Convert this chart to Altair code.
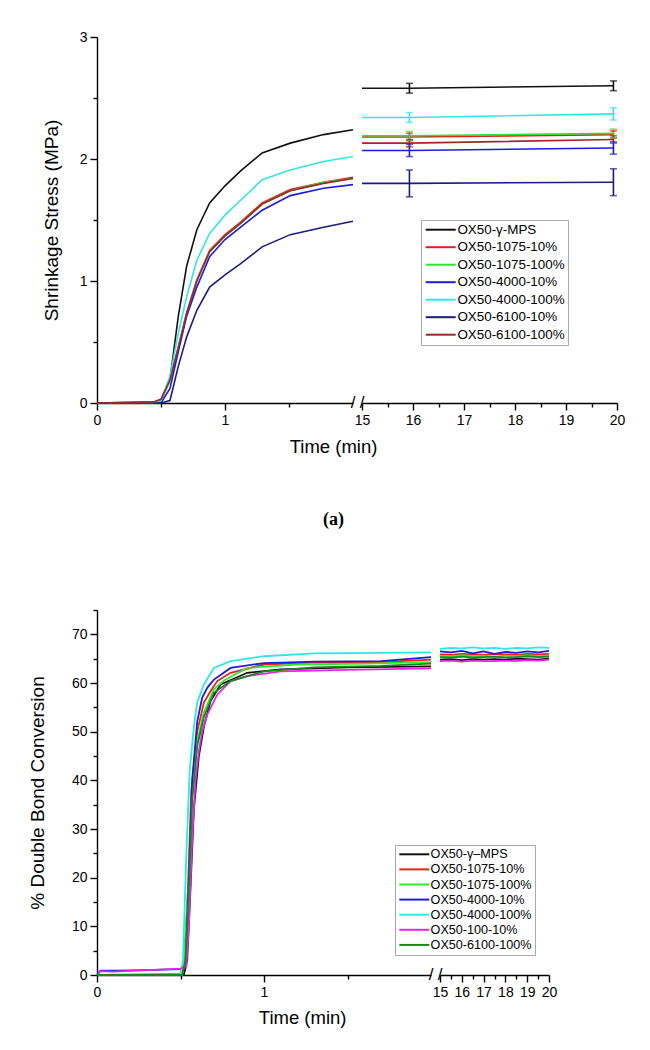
import altair as alt
import pandas as pd

FONT = "Liberation Sans"

# ---------------- (a) Shrinkage stress ----------------
a_series = ["OX50-γ-MPS", "OX50-1075-10%", "OX50-1075-100%", "OX50-4000-10%",
            "OX50-4000-100%", "OX50-6100-10%", "OX50-6100-100%"]
a_colors = ["#111111", "#e02020", "#33e033", "#1c1ce0", "#33e6e6", "#1c1c80", "#9a2a2a"]

a_time = [0, 0.45, 0.5, 0.57, 0.635, 0.70, 0.78, 0.88, 1.0, 1.12, 1.29, 1.51, 1.77, 2.0]
a_mps = [0, 0, 0.02, 0.19, 0.71, 1.12, 1.42, 1.64, 1.78, 1.90, 2.05, 2.13, 2.20, 2.24]
a_1075_10 = [0, 0.01, 0.03, 0.19, 0.46, 0.74, 1.01, 1.25, 1.38, 1.48, 1.64, 1.75, 1.81, 1.85]
a_1075_100 = [0, 0, 0.02, 0.18, 0.45, 0.73, 1.00, 1.24, 1.37, 1.47, 1.63, 1.74, 1.81, 1.84]
a_4000_10 = [0, 0, 0.0, 0.12, 0.42, 0.71, 0.95, 1.20, 1.34, 1.44, 1.58, 1.70, 1.76, 1.79]
a_4000_100 = [0, 0, 0.02, 0.22, 0.57, 0.87, 1.17, 1.39, 1.54, 1.66, 1.83, 1.91, 1.98, 2.02]
a_6100_10 = [0, 0, 0, 0.02, 0.30, 0.54, 0.76, 0.95, 1.05, 1.14, 1.28, 1.38, 1.44, 1.49]
a_6100_100 = [0, 0.01, 0.03, 0.19, 0.45, 0.73, 1.00, 1.24, 1.37, 1.47, 1.63, 1.74, 1.80, 1.84]

a_late_time = [15, 15.93, 19.93]
a_late = {
    "OX50-γ-MPS": [2.58, 2.58, 2.60],
    "OX50-1075-10%": [2.18, 2.18, 2.20],
    "OX50-1075-100%": [2.19, 2.19, 2.21],
    "OX50-4000-10%": [2.07, 2.07, 2.09],
    "OX50-4000-100%": [2.34, 2.34, 2.37],
    "OX50-6100-10%": [1.80, 1.80, 1.81],
    "OX50-6100-100%": [2.13, 2.13, 2.16],
}
a_err_time = [15.93, 19.93]
a_err = {
    "OX50-γ-MPS": [0.04, 0.04],
    "OX50-1075-10%": [0.03, 0.03],
    "OX50-1075-100%": [0.035, 0.035],
    "OX50-4000-10%": [0.05, 0.05],
    "OX50-4000-100%": [0.04, 0.05],
    "OX50-6100-10%": [0.11, 0.11],
    "OX50-6100-100%": [0.03, 0.03],
}

# ---------------- (b) Double bond conversion ----------------
b_series = ["OX50-γ–MPS", "OX50-1075-10%", "OX50-1075-100%", "OX50-4000-10%",
            "OX50-4000-100%", "OX50-100-10%", "OX50-6100-100%"]
b_colors = ["#111111", "#ee2020", "#33e633", "#1c1ce0", "#33e6e6", "#ee22ee", "#158a15"]

b_mps_t = [0, 0.52, 0.54, 0.56, 0.58, 0.61, 0.64, 0.68, 0.74, 0.90, 1.1, 1.5, 2.0]
b_mps_v = [0, 0, 3, 18, 34, 45, 51, 56.3, 59.7, 62.1, 62.8, 63.2, 63.4]
b_1075_10_t = [0, 0.5, 0.525, 0.545, 0.565, 0.60, 0.64, 0.68, 0.72, 0.80, 1.0, 1.3, 1.7, 2.0]
b_1075_10_v = [0, 0, 2, 18, 38, 50, 56, 58.3, 60.4, 62.1, 63.8, 64.2, 64.3, 64.8]
b_1075_100_t = [0, 0.5, 0.52, 0.55, 0.57, 0.60, 0.64, 0.70, 0.76, 0.90, 1.2, 1.6, 2.0]
b_1075_100_v = [0, 0.3, 3, 20, 37, 48, 54, 58.7, 60.5, 63.1, 63.8, 64.0, 64.3]
b_4000_10_t = [0, 0.02, 0.12, 0.3, 0.5, 0.53, 0.55, 0.57, 0.60, 0.63, 0.66, 0.70, 0.80, 1.0, 1.3, 1.7, 2.0]
b_4000_10_v = [0, 0.9, 0.9, 1.0, 1.2, 2, 20, 40, 52, 57, 59, 60.7, 63.1, 64.1, 64.4, 64.5, 65.3]
b_4000_100_t = [0, 0.5, 0.515, 0.535, 0.555, 0.58, 0.60, 0.64, 0.70, 0.80, 1.0, 1.3, 1.7, 2.0]
b_4000_100_v = [0, 0, 3, 25, 42, 51, 56, 59.7, 63.1, 64.5, 65.5, 66.1, 66.2, 66.3]
b_100_10_t = [0, 0.02, 0.1, 0.3, 0.5, 0.535, 0.55, 0.57, 0.59, 0.61, 0.63, 0.66, 0.72, 0.80, 0.90, 1.1, 1.5, 2.0]
b_100_10_v = [0, 0.8, 0.7, 1.0, 1.3, 1.8, 10, 28, 40, 46, 50, 53.5, 57.6, 60.4, 61.4, 62.4, 62.7, 63.0]
b_6100_100_t = [0, 0.51, 0.53, 0.55, 0.57, 0.60, 0.64, 0.70, 0.80, 1.0, 1.3, 1.7, 2.0]
b_6100_100_v = [0, 0, 3, 18, 36, 47, 53, 58.0, 60.4, 62.4, 63.2, 63.5, 64.0]

b_late_time = [15, 15.5, 16, 16.5, 17, 17.5, 18, 18.5, 19, 19.5, 20]
b_late = {
    "OX50-γ–MPS": [64.8, 64.9, 64.7, 64.9, 64.8, 64.9, 64.8, 65.0, 64.9, 64.8, 65.0],
    "OX50-1075-10%": [65.9, 65.8, 66.0, 65.9, 65.8, 66.0, 65.9, 65.8, 66.0, 65.9, 66.0],
    "OX50-1075-100%": [65.6, 65.4, 65.7, 65.5, 65.6, 65.4, 65.6, 65.5, 65.7, 65.5, 65.6],
    "OX50-4000-10%": [66.5, 66.3, 66.6, 66.1, 66.5, 66.0, 66.4, 66.2, 66.5, 66.3, 66.6],
    "OX50-4000-100%": [67.0, 67.2, 67.1, 67.3, 67.1, 67.2, 67.0, 67.2, 67.1, 67.3, 67.2],
    "OX50-100-10%": [64.5, 64.6, 64.4, 64.6, 64.5, 64.5, 64.6, 64.5, 64.7, 64.6, 64.8],
    "OX50-6100-100%": [65.3, 65.2, 65.4, 65.2, 65.3, 65.4, 65.2, 65.3, 65.5, 65.3, 65.4],
}

# ---------------- tables ----------------
a_early_vals = [a_mps, a_1075_10, a_1075_100, a_4000_10, a_4000_100, a_6100_10, a_6100_100]
df_a_left = pd.DataFrame([
    {"s": s, "t": t, "v": v}
    for s, vals in zip(a_series, a_early_vals) for t, v in zip(a_time, vals)
])
df_a_right = pd.DataFrame([
    {"s": s, "t": t, "v": v}
    for s in a_series for t, v in zip(a_late_time, a_late[s])
])
df_a_err = pd.DataFrame([
    {"s": s, "t": t, "lo": a_late[s][i + 1] - e, "hi": a_late[s][i + 1] + e}
    for s in a_series for i, (t, e) in enumerate(zip(a_err_time, a_err[s]))
])

b_early = [(b_mps_t, b_mps_v), (b_1075_10_t, b_1075_10_v), (b_1075_100_t, b_1075_100_v),
           (b_4000_10_t, b_4000_10_v), (b_4000_100_t, b_4000_100_v), (b_100_10_t, b_100_10_v),
           (b_6100_100_t, b_6100_100_v)]
df_b_left = pd.DataFrame([
    {"s": s, "t": t, "v": v}
    for s, (ts, vs) in zip(b_series, b_early) for t, v in zip(ts, vs)
])
df_b_right = pd.DataFrame([
    {"s": s, "t": t, "v": v}
    for s in b_series for t, v in zip(b_late_time, b_late[s])
])

# ---------------- helpers ----------------
def axis_common(**kw):
    base = dict(grid=False, domainColor="black", tickColor="black", labelColor="black",
                labelFont=FONT, labelFontSize=14, domainWidth=1.4, tickWidth=1.4,
                labelPadding=3, titleFont=FONT, titleColor="black", titleFontWeight="normal",
                labelOverlap=False, labelFlush=False, format="~g", tickCount=60)
    base.update(kw)
    return alt.Axis(**base)

def minor_test(step):
    return {"condition": {"test": f"datum.value % {step} !== 0", "value": 4}, "value": 7}

def label_expr(step):
    return f"datum.value % {step} === 0 ? datum.label : ''"

def make_legend(x, y, size, rowpad, offset):
    return alt.Legend(title=None, orient="none", legendX=x, legendY=y,
                      symbolType="M-1,0L5,0", symbolSize=100, symbolStrokeWidth=2,
                      labelFont=FONT, labelFontSize=size, labelColor="black", labelOffset=offset,
                      labelLimit=0, rowPadding=rowpad, padding=3,
                      strokeColor="#aaaaaa", fillColor="white")

def slash(tval):
    return alt.Chart(pd.DataFrame({"t": [tval]})).mark_text(
        text="/", font=FONT, fontSize=17, color="black").encode(
        x=alt.X("t:Q"), y=alt.value(0)
    )

# ---------------- figure (a) ----------------
A_H = 366
a_col_none = alt.Color("s:N", scale=alt.Scale(domain=a_series, range=a_colors), legend=None)
a_col_leg = alt.Color("s:N", scale=alt.Scale(domain=a_series, range=a_colors),
                      legend=make_legend(59, 183, 13.4, 2.5, 20), sort=a_series)

a_x_left = alt.X("t:Q", scale=alt.Scale(domain=[0, 2], nice=False, zero=False),
                 axis=axis_common(values=[0, 0.5, 1, 1.5], labelExpr=label_expr(1),
                                  tickSize=minor_test(1), title=None))
a_y = alt.Y("v:Q", scale=alt.Scale(domain=[0, 3], nice=False),
            axis=axis_common(values=[0, 0.5, 1, 1.5, 2, 2.5, 3], labelExpr=label_expr(1),
                             tickSize=minor_test(1), title="Shrinkage Stress (MPa)",
                             titleFontSize=19, titlePadding=18))
a_y_none = alt.Y("v:Q", scale=alt.Scale(domain=[0, 3], nice=False), axis=None)

a_left = alt.layer(
    alt.Chart(df_a_left).mark_line(strokeWidth=1.6).encode(x=a_x_left, y=a_y, color=a_col_none),
    slash(2).encode(y=alt.value(A_H)),
).properties(width=256, height=A_H)

a_x_right = alt.X("t:Q", scale=alt.Scale(domain=[15, 20], nice=False, zero=False),
                  axis=axis_common(values=[15 + 0.5 * i for i in range(11)],
                                   labelExpr=label_expr(1), tickSize=minor_test(1), title=None))
a_right = alt.layer(
    alt.Chart(df_a_right).mark_line(strokeWidth=1.6).encode(x=a_x_right, y=a_y_none, color=a_col_leg),
    alt.Chart(df_a_err).mark_rule(strokeWidth=1.6).encode(
        x="t:Q", y=alt.Y("lo:Q"), y2="hi:Q", color=a_col_none),
    alt.Chart(df_a_err).mark_tick(orient="horizontal", size=7, thickness=1.6).encode(
        x="t:Q", y=alt.Y("lo:Q"), color=a_col_none),
    alt.Chart(df_a_err).mark_tick(orient="horizontal", size=7, thickness=1.6).encode(
        x="t:Q", y=alt.Y("hi:Q"), color=a_col_none),
    slash(15).encode(y=alt.value(A_H)),
).properties(width=255, height=A_H)

fig_a = alt.HConcatChart(hconcat=[a_left, a_right], spacing=9, bounds="flush").resolve_scale(
    color="independent").properties(
    title=alt.TitleParams(text="Time (min)", orient="bottom", anchor="middle", font=FONT,
                          fontSize=18.5, fontWeight="normal", color="black", offset=11, dx=0,
                          subtitle="(a)", subtitleFont="Liberation Serif, Times New Roman, serif",
                          subtitleFontSize=18, subtitleFontWeight="bold", subtitleColor="black",
                          subtitlePadding=54))

# ---------------- figure (b) ----------------
B_H = 365
b_col_none = alt.Color("s:N", scale=alt.Scale(domain=b_series, range=b_colors), legend=None)
b_col_leg = alt.Color("s:N", scale=alt.Scale(domain=b_series, range=b_colors),
                      legend=make_legend(-45, 235, 12.6, 2.1, 20), sort=b_series)

b_x_left = alt.X("t:Q", scale=alt.Scale(domain=[0, 2], nice=False, zero=False),
                 axis=axis_common(values=[0, 0.5, 1, 1.5], labelExpr=label_expr(1),
                                  tickSize=minor_test(1), title=None))
b_y = alt.Y("v:Q", scale=alt.Scale(domain=[0, 75], nice=False),
            axis=axis_common(values=[5 * i for i in range(16)], labelExpr=label_expr(10),
                             tickSize=minor_test(10), title="% Double Bond Conversion",
                             titleFontSize=19, titlePadding=24))
b_y_none = alt.Y("v:Q", scale=alt.Scale(domain=[0, 75], nice=False), axis=None)

b_left = alt.layer(
    alt.Chart(df_b_left).mark_line(strokeWidth=1.8).encode(x=b_x_left, y=b_y, color=b_col_none),
    slash(2).encode(y=alt.value(B_H)),
).properties(width=334, height=B_H)

b_x_right = alt.X("t:Q", scale=alt.Scale(domain=[15, 20], nice=False, zero=False),
                  axis=axis_common(values=[15 + 0.5 * i for i in range(11)],
                                   labelExpr=label_expr(1), tickSize=minor_test(1), title=None))
b_right = alt.layer(
    alt.Chart(df_b_right).mark_line(strokeWidth=1.8).encode(x=b_x_right, y=b_y_none, color=b_col_leg),
    slash(15).encode(y=alt.value(B_H)),
).properties(width=109, height=B_H)

fig_b = alt.HConcatChart(hconcat=[b_left, b_right], spacing=9, bounds="flush").resolve_scale(
    color="independent").properties(
    title=alt.TitleParams(text="Time (min)", orient="bottom", anchor="middle", font=FONT,
                          fontSize=18.5, fontWeight="normal", color="black", offset=10, dx=10))

chart = alt.VConcatChart(vconcat=[fig_a, fig_b], spacing=74).resolve_scale(
    color="independent").properties(
    padding={"top": 22, "left": 20, "right": 5, "bottom": 5}
).configure_view(stroke="transparent", strokeWidth=0)

chart.save("out.html", embed_options={"renderer": "svg", "actions": False})
